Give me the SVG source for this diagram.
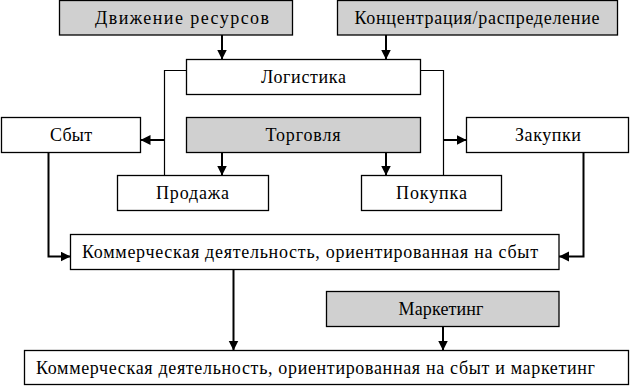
<svg xmlns="http://www.w3.org/2000/svg" width="631" height="386" viewBox="0 0 631 386">
<defs>
<marker id="arr" markerUnits="userSpaceOnUse" markerWidth="11" markerHeight="11" refX="10" refY="5" orient="auto">
<path d="M0,0 L10,5 L0,10 z" fill="#000"/>
</marker>
<style>
.box{fill:#fff;stroke:#000;stroke-width:1.3}
.gray{fill:#d0d0d0;stroke:#000;stroke-width:1.3}
.lbl{font-family:"Liberation Serif","Times New Roman",serif;font-size:18px;fill:#000;text-anchor:middle}
.ln{fill:none;stroke:#000;stroke-width:1.2}
.ar{fill:none;stroke:#000;stroke-width:2;marker-end:url(#arr)}
</style>
</defs>
<rect width="631" height="386" fill="#fff"/>
<g id="connectors">
<line class="ar" x1="222" y1="35" x2="222" y2="59.5"/>
<line class="ar" x1="386" y1="35" x2="386" y2="59.5"/>
<polyline class="ln" points="186.5,70.5 164.5,70.5 164.5,175.5"/>
<line class="ar" x1="164.5" y1="140" x2="140.5" y2="140"/>
<polyline class="ln" points="420.5,70.5 443.5,70.5 443.5,175.5"/>
<line class="ar" x1="443.5" y1="140" x2="466.5" y2="140"/>
<line class="ar" x1="222" y1="152.5" x2="222" y2="175.5"/>
<line class="ar" x1="386" y1="152.5" x2="386" y2="175.5"/>
<polyline class="ar" points="48.5,152.5 48.5,256.5 70.5,256.5"/>
<polyline class="ar" points="583.5,152.5 583.5,256.5 559,256.5"/>
<line class="ar" x1="233.5" y1="269.5" x2="233.5" y2="350.5"/>
<line class="ar" x1="443" y1="326.5" x2="443" y2="350.5"/>
</g>
<g id="dvizhenie"><rect class="gray" x="59.5" y="0.5" width="233" height="34.5"/><text class="lbl" x="182" y="23.5" textLength="174" lengthAdjust="spacing">Движение ресурсов</text></g>
<g id="koncentracia"><rect class="gray" x="337.5" y="0.5" width="280" height="34.5"/><text class="lbl" x="477" y="23.5" textLength="245" lengthAdjust="spacing">Концентрация/распределение</text></g>
<g id="logistika"><rect class="box" x="186.5" y="59.5" width="234" height="35"/><text class="lbl" x="303.5" y="83" textLength="85" lengthAdjust="spacing">Логистика</text></g>
<g id="sbyt"><rect class="box" x="1.5" y="117.5" width="139" height="35"/><text class="lbl" x="71" y="141" textLength="42" lengthAdjust="spacing">Сбыт</text></g>
<g id="torgovlia"><rect class="gray" x="186.5" y="117.5" width="234" height="35"/><text class="lbl" x="303" y="141" textLength="75" lengthAdjust="spacing">Торговля</text></g>
<g id="zakupki"><rect class="box" x="466.5" y="117.5" width="162" height="35"/><text class="lbl" x="548" y="141" textLength="66" lengthAdjust="spacing">Закупки</text></g>
<g id="prodazha"><rect class="box" x="117.5" y="175.5" width="151" height="35"/><text class="lbl" x="192.5" y="199" textLength="73" lengthAdjust="spacing">Продажа</text></g>
<g id="pokupka"><rect class="box" x="361.5" y="175.5" width="140" height="35"/><text class="lbl" x="431.5" y="199" textLength="71" lengthAdjust="spacing">Покупка</text></g>
<g id="kommerch"><rect class="box" x="70.5" y="234.5" width="488.5" height="35"/><text class="lbl" x="310" y="257.5" textLength="456" lengthAdjust="spacing">Коммерческая деятельность, ориентированная на сбыт</text></g>
<g id="marketing"><rect class="gray" x="326.5" y="291.5" width="232.5" height="35"/><text class="lbl" x="441" y="315" textLength="85" lengthAdjust="spacing">Маркетинг</text></g>
<g id="kommerch_marketing"><rect class="box" x="24.5" y="350.5" width="604" height="34"/><text class="lbl" x="315.5" y="374" textLength="559" lengthAdjust="spacing">Коммерческая деятельность, ориентированная на сбыт и маркетинг</text></g>
</svg>
